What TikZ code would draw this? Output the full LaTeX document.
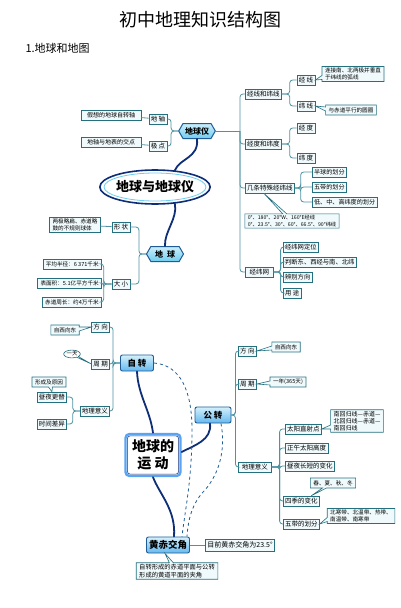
\documentclass[tikz,border=0pt]{standalone}
\usepackage{fontspec}
\setmainfont{Noto Sans CJK SC}
\usetikzlibrary{arrows.meta,positioning,shapes.geometric,shapes.symbols,shapes.callouts}
\definecolor{boxc}{HTML}{25707F}
\definecolor{boxf}{HTML}{F0FAFC}
\definecolor{linkc}{HTML}{4E93A3}
\definecolor{navy}{HTML}{0E2F78}
\definecolor{hubf}{HTML}{6FCDF0}
\definecolor{hubd}{HTML}{1F5C96}

\begin{document}
\begin{tikzpicture}[x=1pt,y=-1pt,
  tag/.style={draw=boxc,fill=boxf,line width=.6pt,inner sep=1.8pt,minimum height=10pt,font=\fontsize{6.5}{7.5}\selectfont},
  note/.style={tag,align=left,inner xsep=3pt,inner ysep=1.5pt,font=\fontsize{5.6}{6.8}\selectfont},
  callnote/.style={note,rectangle callout,callout pointer width=4pt},
  hub/.style={signal,signal to=west and east,signal pointer angle=120,draw=hubd,line width=1pt,top color=hubf!35,bottom color=hubf,font=\fontsize{8}{9}\selectfont\bfseries,inner sep=2pt,minimum height=15pt},
  hubbox/.style={draw=hubd,line width=.9pt,rounded corners=2pt,top color=hubf!30,bottom color=hubf!90!blue,font=\fontsize{8.5}{9}\selectfont\bfseries,minimum height=16pt,inner sep=2pt},
  link/.style={linkc,line width=.8pt,rounded corners=3pt},
  trunk/.style={navy,line width=1.8pt,line cap=round},
  dashlink/.style={hubd,line width=.8pt,dashed}]
\fill[white] (0,0) rectangle (400,608);
\useasboundingbox (0,0) rectangle (400,608);

\node (title) at (200,20) {\fontsize{18}{18}\selectfont 初中地理知识结构图};
\node[anchor=west] (sec) at (22,48) {\fontsize{11}{11}\selectfont 1.地球和地图};

% globe
\node[hub,minimum width=31pt] (dqy) at (197,131) {地球仪};
\node[tag] (dizhou) at (158,119) {地 轴};
\node[tag] (jidian) at (158,146) {极 点};
\node[note,minimum width=60pt,font=\fontsize{6}{7}\selectfont] (dzn) at (111,115) {假想的地球自转轴};
\node[note,minimum width=60pt,font=\fontsize{6}{7}\selectfont] (jdn) at (111,142) {地轴与地表的交点};
\foreach \c in {dizhou,jidian}{\draw[link] (dqy.west) -- ++(-7,0) |- (\c.east);}
\draw[link] (dzn) -- (dizhou);
\draw[link] (jdn) -- (jidian);

\coordinate (tr) at (240,131);
\draw[link] (dqy.east) -- (tr);
\node[tag,anchor=west] (jwx) at (245,94) {经线和纬线};
\node[tag,anchor=west] (jwd) at (245,144) {经度和纬度};
\node[tag,anchor=west] (tsx) at (245,188) {几条特殊经纬线};
\node[tag,anchor=west,minimum width=28pt] (jwn) at (245,272) {经纬网};
\foreach \c in {jwx,jwd,tsx,jwn}{\draw[link] (tr) |- (\c.west);}

\node[tag] (jingxian) at (306,80) {经 线};
\node[tag] (weixian) at (306,106) {纬 线};
\foreach \c in {jingxian,weixian}{\draw[link] (jwx.east) -- ++(8,0) |- (\c.west);}
\node[callnote,callout absolute pointer={(jingxian.east)}] (jxn) at (353,74) {连接南、北两极并垂直\\于纬线的弧线};
\node[callnote,callout absolute pointer={(weixian.east)}] (wxn) at (351,110) {与赤道平行的圆圈};

\node[tag] (jingdu) at (306,128) {经 度};
\node[tag] (weidu) at (306,158) {纬 度};
\foreach \c in {jingdu,weidu}{\draw[link] (jwd.east) -- ++(8,0) |- (\c.west);}

\node[tag,anchor=west,font=\fontsize{6.1}{7}\selectfont] (bq) at (312,172) {半球的划分};
\node[tag,anchor=west,font=\fontsize{6.1}{7}\selectfont] (wd) at (312,187) {五带的划分};
\node[tag,anchor=west,font=\fontsize{6.1}{7}\selectfont] (dzg) at (312,202) {低、中、高纬度的划分};
\foreach \c in {bq,wd,dzg}{\draw[link] (tsx.east) -- ++(6,0) |- (\c.west);}
\node[callnote,font=\fontsize{5.2}{6.6}\selectfont,callout absolute pointer={([xshift=-6pt]tsx.south)}] (tsxn) at (292,221) {0°、180°、20°W、160°E经线\\0°、23.5°、30°、60°、66.5°、90°纬线};

\node[tag,anchor=west,font=\fontsize{6.3}{7}\selectfont] (dw) at (283,247) {经纬网定位};
\node[tag,anchor=west,font=\fontsize{6.3}{7}\selectfont] (pd) at (283,262) {判断东、西经与南、北纬};
\node[tag,anchor=west,font=\fontsize{6.3}{7}\selectfont] (bb) at (283,277) {辨别方向};
\node[tag,anchor=west,font=\fontsize{6.3}{7}\selectfont] (yt) at (283,293) {用 途};
\foreach \c in {dw,pd,bb,yt}{\draw[link] (jwn.east) -- ++(7,0) |- (\c.west);}

\node[ellipse,draw=navy,line width=1.6pt,fill=white,inner sep=0pt,minimum width=108pt,minimum height=34pt,font=\fontsize{13}{13}\selectfont\bfseries] (dqq) at (155,187) {地球与地球仪};
\draw[hubf,line width=.8pt] (dqq.center) ellipse (51pt and 14pt);
\draw[trunk] (dqy.south) .. controls (199,158) and (180,158) .. (dqq.40);

% earth
\node[hub,minimum width=37pt] (dq) at (165,254) {地\enspace 球};
\draw[trunk] (dqq.-40) .. controls (178,218) and (164,232) .. (dq.north);
\node[tag] (xz) at (121,227) {形 状};
\node[tag] (dx) at (121,284) {大 小};
\foreach \c in {xz,dx}{\draw[link] (dq.west) -- ++(-7,0) |- (\c.east);}
\node[note] (xzn) at (75,225) {两极略扁、赤道略\\鼓的不规则球体};
\draw[link] (xzn) -- (xz);
\node[note,anchor=east] (bj) at (102,264) {平均半径：6 371千米};
\node[note,anchor=east] (bmj) at (102,283) {表面积：5.1亿平方千米};
\node[note,anchor=east] (zc) at (102,302) {赤道周长：约4万千米};
\foreach \c in {bj,bmj,zc}{\draw[link] (dx.west) -- ++(-8,0) |- (\c.east);}

% rotation
\node[hubbox,minimum width=33pt] (zz) at (137,363) {自 转};
\node[tag,anchor=east] (fx) at (110,327) {方 向};
\node[tag,anchor=east] (zq) at (110,364) {周 期};
\node[tag,anchor=east] (dlyy) at (110,411) {地理意义};
\foreach \c in {fx,zq,dlyy}{\draw[link] (zz.west) -- ++(-7,0) |- (\c.east);}
\node[callnote,callout absolute pointer={(fx.west)}] (fxn) at (65,330) {自西向东};
\node[ellipse callout,draw=boxc,fill=white,line width=.6pt,inner sep=.5pt,callout pointer width=3pt,font=\fontsize{5.4}{6}\selectfont,callout absolute pointer={(zq.west)}] (zqn) at (72,354) {一天};
\node[tag,anchor=east] (zy) at (67,397) {昼夜更替};
\node[tag,anchor=east] (sjc) at (67,424) {时间差异};
\foreach \c in {zy,sjc}{\draw[link] (dlyy.west) -- ++(-7,0) |- (\c.east);}
\node[callnote,callout absolute pointer={(zy.north)}] (xcn) at (49,382) {形成及原因};

\node[draw=hubf!80!blue,line width=2.4pt,rounded corners=4pt,fill=white,minimum width=55pt,minimum height=42pt,align=center,font=\fontsize{14}{17}\selectfont\bfseries] (yd) at (153,455) {地球的\\运 动};
\draw[navy,line width=.5pt,rounded corners=3pt] ([shift={(3pt,-3pt)}]yd.north west) rectangle ([shift={(-3pt,3pt)}]yd.south east);
\draw[trunk] (zz.south) .. controls (138,395) and (150,410) .. (yd.north);

% revolution
\node[hubbox,minimum width=36pt] (gz) at (213,415) {公 转};
\draw[trunk] ([yshift=3pt]yd.east) .. controls (195,445) and (212,440) .. ([xshift=-3pt]gz.south);
\node[tag,anchor=west] (fx2) at (238,351) {方 向};
\node[tag,anchor=west] (zq2) at (238,384) {周 期};
\node[tag,anchor=west,minimum width=33pt] (dlyy2) at (238,467) {地理意义};
\foreach \c in {fx2,zq2,dlyy2}{\draw[link] (gz.east) -- ++(4,0) |- (\c.west);}
\node[callnote,callout absolute pointer={(fx2.east)}] (fxn2) at (286,347) {自西向东};
\node[callnote,callout absolute pointer={(zq2.east)}] (zqn2) at (288,382) {一年(365天)};
\node[tag,anchor=west] (zsd) at (285,429) {太阳直射点};
\node[tag,anchor=west] (gd) at (285,448) {正午太阳高度};
\node[tag,anchor=west] (cdbh) at (285,466) {昼夜长短的变化};
\node[tag,anchor=west] (sjbh) at (283,501) {四季的变化};
\node[tag,anchor=west] (wdhf) at (283,524) {五带的划分};
\foreach \c in {zsd,gd,cdbh,sjbh,wdhf}{\draw[link] (dlyy2.east) -- ++(8,0) |- (\c.west);}
\node[callnote,font=\fontsize{6}{7}\selectfont,callout absolute pointer={(zsd.east)}] (zsdn) at (357,421) {南回归线—赤道—\\北回归线—赤道—\\南回归线};
\node[callnote,callout absolute pointer={([xshift=10pt]sjbh.north)}] (sjn) at (333,483) {春、夏、秋、冬};
\node[callnote,callout absolute pointer={(wdhf.east)}] (wdn) at (361,516) {北寒带、北温带、热带、\\南温带、南寒带};

% obliquity
\node[hubbox,minimum width=43pt,font=\fontsize{9.5}{10}\selectfont\bfseries] (hcjj) at (168,545) {黄赤交角};
\draw[trunk] (yd.south) .. controls (160,495) and (176,510) .. ([xshift=6pt]hcjj.north);
\node[tag,minimum height=12pt,font=\fontsize{7}{8}\selectfont] (mq) at (240,545) {目前黄赤交角为23.5°};
\draw[link] (hcjj.east) -- (mq.west);
\node[callnote,font=\fontsize{6.3}{7.6}\selectfont,callout absolute pointer={([xshift=-3pt]hcjj.south)}] (hcn) at (177,571) {自转形成的赤道平面与公转\\形成的黄道平面的夹角};

\draw[dashlink] (zz.east) .. controls (180,365) and (192,390) .. (192,430) .. controls (192,480) and (185,510) .. ([xshift=14pt]hcjj.north);
\draw[dashlink] ([xshift=8pt]gz.south) .. controls (225,445) and (222,470) .. (205,490) .. controls (192,503) and (188,520) .. ([xshift=19pt]hcjj.north);
\end{tikzpicture}
\end{document}
